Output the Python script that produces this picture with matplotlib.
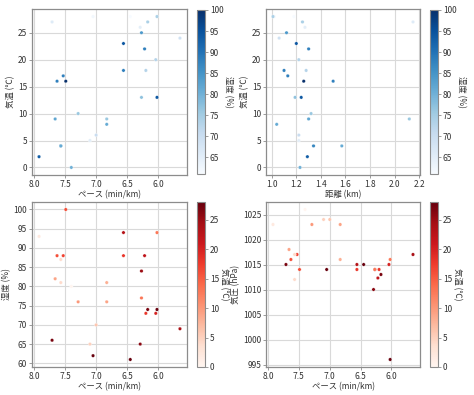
import matplotlib
matplotlib.use("Agg")
import matplotlib.pyplot as plt
import numpy as np

plt.rcParams['font.family'] = ['Noto Sans CJK JP', 'DejaVu Sans']
plt.rcParams['font.size'] = 6

pace = [7.92, 7.71, 7.63, 7.66, 7.53, 7.49, 7.57, 7.57, 7.40, 7.29, 7.05, 7.00, 6.83, 6.83,
        7.10, 6.56, 6.02, 6.56, 6.22, 6.27, 6.27, 6.17, 6.20, 6.02, 6.04, 5.65, 6.29, 6.45]
distance = [1.29, 2.15, 1.50, 1.30, 1.13, 1.26, 1.34, 1.57, 1.23, 1.32, 1.02, 1.22, 2.12, 1.04,
            1.22, 1.20, 1.24, 1.10, 1.30, 1.12, 1.19, 1.25, 1.28, 1.01, 1.22, 1.06, 1.27, 1.18]
temperature = [2, 27, 16, 9, 17, 16, 4, 4, 0, 10, 28, 6, 9, 8,
               5, 23, 13, 18, 22, 25, 13, 27, 18, 28, 20, 24, 26, 28]
humidity = [93, 66, 88, 82, 88, 100, 87, 81, 80, 76, 62, 70, 76, 81,
            65, 94, 94, 88, 88, 84, 77, 74, 73, 74, 73, 69, 65, 61]
pressure = [1023, 1015, 1016, 1018, 1017, 1014, 1012, 1017, 1026, 1023, 1014, 1024, 1023, 1016,
            1024, 1015, 1016, 1014, 1012.3, 1014, 1014, 1013, 1014, 996, 1015, 1017, 1010, 1015]

W, H = 474, 395
fig = plt.figure(figsize=(W / 100, H / 100), dpi=100)

def frac(x0, y0, x1, y1):
    return [x0 / W, 1 - y1 / H, (x1 - x0) / W, (y1 - y0) / H]

spine_c = '#8c8c8c'
grid_c = '#d9d9d9'
text_c = '#333333'
FS = 6

def style(ax):
    for s in ax.spines.values():
        s.set_color(spine_c)
        s.set_linewidth(0.9)
    ax.grid(True, color=grid_c, linewidth=0.8)
    ax.set_axisbelow(True)
    ax.tick_params(length=2, width=0.6, color=spine_c, labelsize=FS, pad=1.5, labelcolor=text_c)

def panel(axbox, cbbox, x, y, c, cmap, xlabel, ylabel, clabel, invert, yticks=None, xticks=None):
    ax = fig.add_axes(frac(*axbox))
    sc = ax.scatter(x, y, c=c, cmap=cmap, s=6, edgecolors='white', linewidths=0.2,
                    vmin=min(c), vmax=max(c), zorder=3)
    ax.margins(0.05)
    if invert:
        ax.invert_xaxis()
    if yticks is not None:
        ax.set_yticks(yticks)
    if xticks is not None:
        ax.set_xticks(xticks)
    ax.set_xlabel(xlabel, fontsize=FS, labelpad=1, color=text_c)
    ax.set_ylabel(ylabel, fontsize=FS, labelpad=2, color=text_c)
    style(ax)
    cax = fig.add_axes(frac(*cbbox))
    cb = fig.colorbar(sc, cax=cax)
    cb.outline.set_edgecolor(spine_c)
    cb.outline.set_linewidth(0.8)
    cax.tick_params(length=2, width=0.6, color=spine_c, labelsize=FS, pad=1.5, labelcolor=text_c)
    cb.set_label(clabel, fontsize=FS, labelpad=7, color=text_c, rotation=270)
    return ax

panel((32, 9, 187, 175), (197, 10, 205, 174), pace, temperature, humidity, 'Blues',
      'ペース (min/km)', '気温 (℃)', '湿度 (%)', True,
      yticks=[0, 5, 10, 15, 20, 25], xticks=[8.0, 7.5, 7.0, 6.5, 6.0])
panel((266, 9, 420, 175), (430, 10, 438, 174), distance, temperature, humidity, 'Blues',
      '距離 (km)', '気温 (℃)', '湿度 (%)', False,
      yticks=[0, 5, 10, 15, 20, 25], xticks=[1.0, 1.2, 1.4, 1.6, 1.8, 2.0, 2.2])
panel((32, 202, 187, 367), (197, 202, 205, 367), pace, humidity, temperature, 'Reds',
      'ペース (min/km)', '湿度 (%)', '気温 (℃)', True,
      yticks=[60, 65, 70, 75, 80, 85, 90, 95, 100], xticks=[8.0, 7.5, 7.0, 6.5, 6.0])
panel((266, 202, 420, 367), (430, 202, 438, 367), pace, pressure, temperature, 'Reds',
      'ペース (min/km)', '気圧 (hPa)', '気温 (℃)', True,
      yticks=[995, 1000, 1005, 1010, 1015, 1020, 1025], xticks=[8.0, 7.5, 7.0, 6.5, 6.0])

fig.savefig('out.png', dpi=100)
